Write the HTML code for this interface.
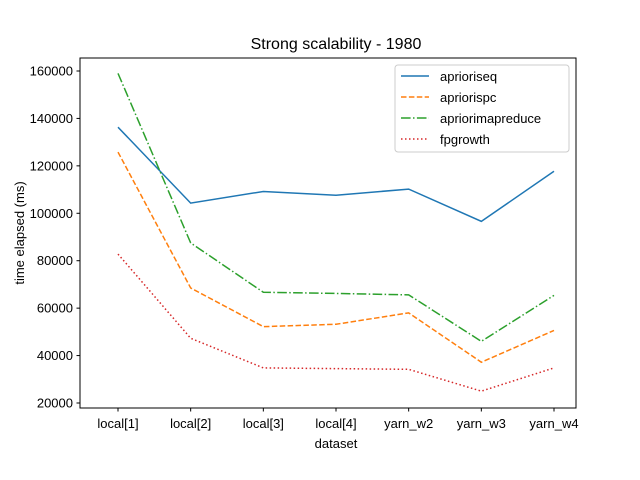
<!DOCTYPE html>
<html><head><meta charset="utf-8"><style>
html,body{margin:0;padding:0;background:#fff;}
svg{display:block;font-family:"Liberation Sans","DejaVu Sans",sans-serif;}
</style></head><body>
<svg id="chart" width="640" height="480">
<rect width="640" height="480" fill="#fff"/>
<text x="336" y="49" font-size="16" text-anchor="middle">Strong scalability - 1980</text>
<g id="grid"></g>
<g id="series"></g>
<rect x="80" y="58" width="496" height="350" fill="none" stroke="#000" stroke-width="1"/>
<text x="336" y="448" font-size="13" text-anchor="middle">dataset</text>
<text x="24" y="233" font-size="13" text-anchor="middle" transform="rotate(-90 24 233)">time elapsed (ms)</text>
<g id="legend"></g>
</svg>
<script>
const categories=["local[1]","local[2]","local[3]","local[4]","yarn_w2","yarn_w3","yarn_w4"];
const seriesNames=["aprioriseq","apriorispc","apriorimapreduce","fpgrowth"];
const aprioriseq=[136300,104300,109200,107600,110200,96600,117700];
const apriorispc=[125800,68500,52200,53200,58000,37200,50600];
const apriorimapreduce=[159000,87500,66700,66200,65600,46000,65400];
const fpgrowth=[82800,47300,34800,34500,34200,25000,34800];
const yTicks=[20000,40000,60000,80000,100000,120000,140000,160000];
const ns="http://www.w3.org/2000/svg";
function X(i){return 118+i*(554-118)/(categories.length-1);}
function Y(v){return 403-(v-20000)/20000*47.43;}
const grid=document.getElementById('grid');
function mk(tag,attrs,parent){const e=document.createElementNS(ns,tag);for(const k in attrs)e.setAttribute(k,attrs[k]);parent.appendChild(e);return e;}
yTicks.forEach(t=>{
  const y=Y(t);
  const l=mk('line',{x1:76.5,x2:80,y1:y,y2:y,stroke:'#000'},grid);
  
  
  const tx=mk('text',{x:73,y:y+4.5,'font-size':13,'text-anchor':'end'},grid);
  tx.textContent=t;
  
  
});
categories.forEach((c,i)=>{
  const x=X(i);
  const l=mk('line',{x1:x,x2:x,y1:408,y2:411.5,stroke:'#000'},grid);
  
  
  const tx=mk('text',{x:x,y:428,'font-size':13,'text-anchor':'middle'},grid);
  tx.textContent=c;
  
  
});
const data=[aprioriseq,apriorispc,apriorimapreduce,fpgrowth];
const colors=["#1f77b4","#ff7f0e","#2ca02c","#d62728"];
const dashes=["","5.5,2.4","9.6,2.4,1.5,2.4","1.5,2.5"];
const sg=document.getElementById('series');
data.forEach((vals,s)=>{
  const pts=vals.map((v,i)=>X(i)+','+Y(v)).join(' ');
  const p=mk('polyline',{points:pts,fill:'none',stroke:colors[s],'stroke-width':1.5,'stroke-dasharray':dashes[s]},sg);
  
  
});
const lg=document.getElementById('legend');
const box=mk('rect',{x:395,y:65,width:174,height:87,rx:3,fill:'#fff','fill-opacity':0.8,stroke:'#ccc'},lg);


seriesNames.forEach((n,s)=>{
  const y=76+s*21;
  const l=mk('line',{x1:401,x2:429,y1:y,y2:y,stroke:colors[s],'stroke-width':1.5,'stroke-dasharray':dashes[s]},lg);
  
  
  const t=mk('text',{x:440,y:y+5,'font-size':13},lg);
  t.textContent=n;
  
  
});
</script>
</body></html>
